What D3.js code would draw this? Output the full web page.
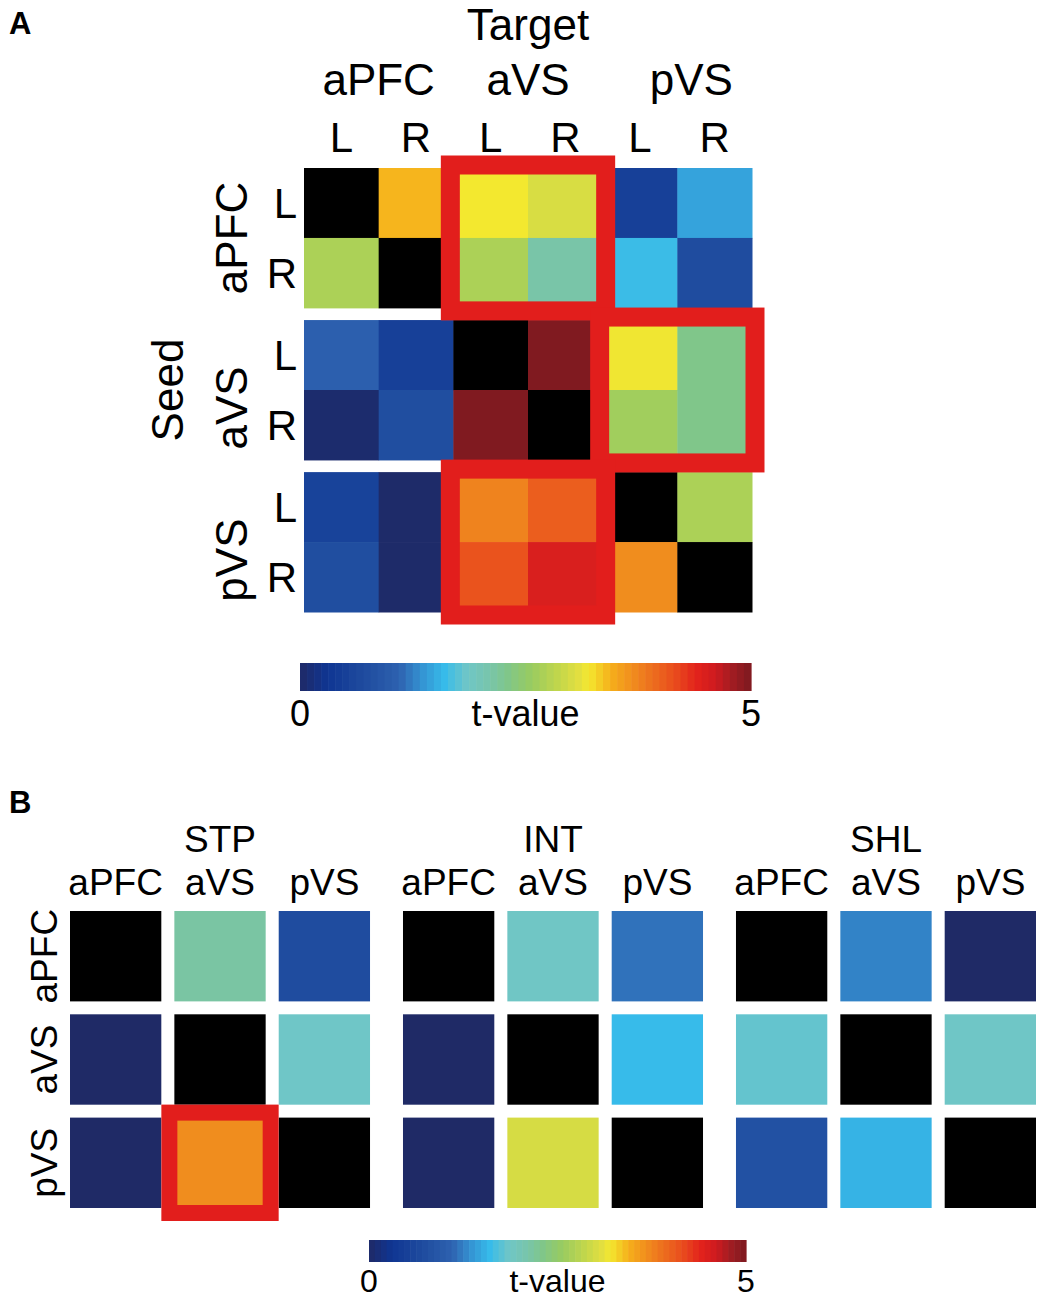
<!DOCTYPE html>
<html><head><meta charset="utf-8">
<script src="https://cdn.jsdelivr.net/npm/d3@7"></script>
<style>body{margin:0;background:#fff} text{font-family:"Liberation Sans",Arial,Helvetica,sans-serif;fill:#000}</style>
</head><body>
<svg id="c" width="1043" height="1300"></svg>
<script>
// ---------- data ----------
const regions = ["aPFC", "aVS", "pVS"];
const sides = ["L", "R"];
const nodesA = ["aPFC L", "aPFC R", "aVS L", "aVS R", "pVS L", "pVS R"];
// Panel A: rows = seed, columns = target (t-values); null = self (black)
const tValuesA = [
  [null, 3.42, 3.20, 3.02, 0.50, 1.45],
  [2.70, null, 2.70, 2.12, 1.62, 0.72],
  [1.05, 0.50, null, 4.98, 3.18, 2.30],
  [0.05, 0.75, 4.98, null, 2.62, 2.30],
  [0.55, 0.02, 3.75, 4.02, null, 2.70],
  [0.75, 0.02, 4.10, 4.50, 3.68, null]
];
const highlightA = [["aPFC", "aVS"], ["aVS", "pVS"], ["pVS", "aVS"]]; // [seed, target]

// Panel B: three conditions, rows = seed, columns = target
const conditions = ["STP", "INT", "SHL"];
const tSTP = [[null, 2.15, 0.72], [0.00, null, 1.85], [0.00, 3.68, null]];
const tINT = [[null, 1.87, 1.18], [0.00, null, 1.60], [0.00, 3.00, null]];
const tSHL = [[null, 1.27, 0.00], [1.80, null, 1.86], [0.80, 1.55, null]];
const tValuesB = {STP: tSTP, INT: tINT, SHL: tSHL};
const highlightB = [["STP", "pVS", "aVS"]]; // [condition, seed, target]

// colour map (jet-like) and colorbar
const tDomain = [0, 5];
const cbTicks = ["0", "5"];
const cbTitle = "t-value";
const cmapStops  = [0, 0.3, 0.7, 1.1, 1.35, 1.6, 1.85, 2.1, 2.3, 2.55, 2.85, 3.1, 3.2, 3.45, 3.7, 3.95, 4.2, 4.4, 4.6, 4.8, 5.0];
const cmapColors = ["#1f2a66","#0f3592","#1e4b9e","#2e62b0","#3493d2","#37bbea","#6fc6c7","#78c5ab","#80c68a","#97cb62","#c0d64c","#e4e03f","#f3e82f","#f6ae1b","#f08a1e","#ec681e","#e8451d","#e2221c","#cf1b1f","#a01c22","#7c1a20"];

// ---------- drawing ----------
const svg = d3.select("#c");
const color = d3.scaleLinear().domain(cmapStops).range(cmapColors).clamp(true);
const fill = v => v == null ? "#000" : color(v);
const RED = "#e21e1c";

function colorbar(x0, x1, y, h, labelY, fs) {
  const s = d3.scaleLinear().domain(tDomain).range([x0, x1]);
  const n = 64, step = (tDomain[1] - tDomain[0]) / n;
  const g = svg.append("g");
  g.selectAll("rect").data(d3.range(n)).join("rect")
    .attr("x", i => s(i * step)).attr("y", y)
    .attr("width", i => s((i + 1) * step) - s(i * step) + 0.6).attr("height", h)
    .attr("fill", i => color((i + 0.5) * step));
  g.selectAll("text.tk").data(cbTicks).join("text").attr("class", "tk")
    .attr("x", d => s(+d)).attr("y", labelY).attr("text-anchor", "middle")
    .attr("font-size", fs).text(d => d);
  g.append("text").attr("x", s((tDomain[0] + tDomain[1]) / 2)).attr("y", labelY)
    .attr("text-anchor", "middle").attr("font-size", fs).text(cbTitle);
}

// Panel A
const xA = d3.scaleBand().domain(nodesA).range([304, 752]);
const gA = d3.scaleBand().domain(regions).range([168, 612]).paddingInner(0.08);
const subA = d3.scaleBand().domain(sides).range([0, gA.bandwidth()]);
const yA = n => { const [r, s] = n.split(" "); return gA(r) + subA(s); };
const bwA = xA.bandwidth(), bhA = subA.bandwidth();

const cellsA = [];
tValuesA.forEach((row, i) => row.forEach((v, j) => cellsA.push({seed: nodesA[i], target: nodesA[j], v})));
svg.append("g").selectAll("rect").data(cellsA).join("rect")
  .attr("x", d => xA(d.target)).attr("y", d => yA(d.seed))
  .attr("width", bwA + 0.5).attr("height", bhA + 0.5)
  .attr("fill", d => fill(d.v));

const padA = 3;
svg.append("g").selectAll("rect").data(highlightA).join("rect")
  .attr("x", d => xA(d[1] + " L") - padA).attr("y", d => gA(d[0]) - padA)
  .attr("width", 2 * bwA + 2 * padA).attr("height", gA.bandwidth() + 2 * padA)
  .attr("fill", "none").attr("stroke", RED).attr("stroke-width", 19);

svg.append("text").attr("x", 9).attr("y", 34).attr("font-size", 31).attr("font-weight", "bold").text("A");
svg.append("text").attr("x", xA("aVS R")).attr("y", 40).attr("text-anchor", "middle").attr("font-size", 44).text("Target");
svg.append("g").selectAll("text").data(regions).join("text")
  .attr("x", r => xA(r + " R") + (r === "pVS" ? 14 : 0)).attr("y", 95).attr("text-anchor", "middle").attr("font-size", 44).text(r => r);
svg.append("g").selectAll("text").data(nodesA).join("text")
  .attr("x", n => xA(n) + bwA / 2).attr("y", 152).attr("text-anchor", "middle").attr("font-size", 42).text(n => n.split(" ")[1]);
svg.append("g").selectAll("text").data(nodesA).join("text")
  .attr("x", 297).attr("y", n => yA(n) + bhA / 2).attr("dy", "0.36em").attr("text-anchor", "end").attr("font-size", 42).text(n => n.split(" ")[1]);
svg.append("g").selectAll("text").data(regions).join("text")
  .attr("transform", r => `translate(247,${gA(r) + gA.bandwidth() / 2 + (r === "aPFC" ? 0 : 18)}) rotate(-90)`)
  .attr("text-anchor", "middle").attr("font-size", 44).text(r => r);
svg.append("text").attr("transform", `translate(183,${(168 + 612) / 2}) rotate(-90)`)
  .attr("text-anchor", "middle").attr("font-size", 44).text("Seed");

colorbar(300, 751, 663, 28, 726, 36);

// Panel B
const gB = d3.scaleBand().domain(conditions).range([70, 1036]).paddingInner(0.099);
const xB = d3.scaleBand().domain(regions).range([0, gB.bandwidth()]).paddingInner(0.125);
const yB = d3.scaleBand().domain(regions).range([911, 1208]).paddingInner(0.125);

const cellsB = [];
conditions.forEach(c => tValuesB[c].forEach((row, i) => row.forEach((v, j) => cellsB.push({c, seed: regions[i], target: regions[j], v}))));
svg.append("g").selectAll("rect").data(cellsB).join("rect")
  .attr("x", d => gB(d.c) + xB(d.target)).attr("y", d => yB(d.seed))
  .attr("width", xB.bandwidth()).attr("height", yB.bandwidth())
  .attr("fill", d => fill(d.v));

const padB = 5;
svg.append("g").selectAll("rect").data(highlightB).join("rect")
  .attr("x", d => gB(d[0]) + xB(d[2]) - padB).attr("y", d => yB(d[1]) - padB)
  .attr("width", xB.bandwidth() + 2 * padB).attr("height", yB.bandwidth() + 2 * padB)
  .attr("fill", "none").attr("stroke", RED).attr("stroke-width", 16);

svg.append("text").attr("x", 9).attr("y", 813).attr("font-size", 31).attr("font-weight", "bold").text("B");
svg.append("g").selectAll("text").data(conditions).join("text")
  .attr("x", c => gB(c) + gB.bandwidth() / 2).attr("y", 852).attr("text-anchor", "middle").attr("font-size", 37).text(c => c);
const colLabB = [];
conditions.forEach(c => regions.forEach(r => colLabB.push({c, r})));
svg.append("g").selectAll("text").data(colLabB).join("text")
  .attr("x", d => gB(d.c) + xB(d.r) + xB.bandwidth() / 2).attr("y", 895).attr("text-anchor", "middle").attr("font-size", 37).text(d => d.r);
svg.append("g").selectAll("text").data(regions).join("text")
  .attr("transform", r => `translate(57,${yB(r) + yB.bandwidth() / 2}) rotate(-90)`)
  .attr("text-anchor", "middle").attr("font-size", 37).text(r => r);

colorbar(369, 746, 1240, 22, 1292, 32);
</script>
</body></html>
